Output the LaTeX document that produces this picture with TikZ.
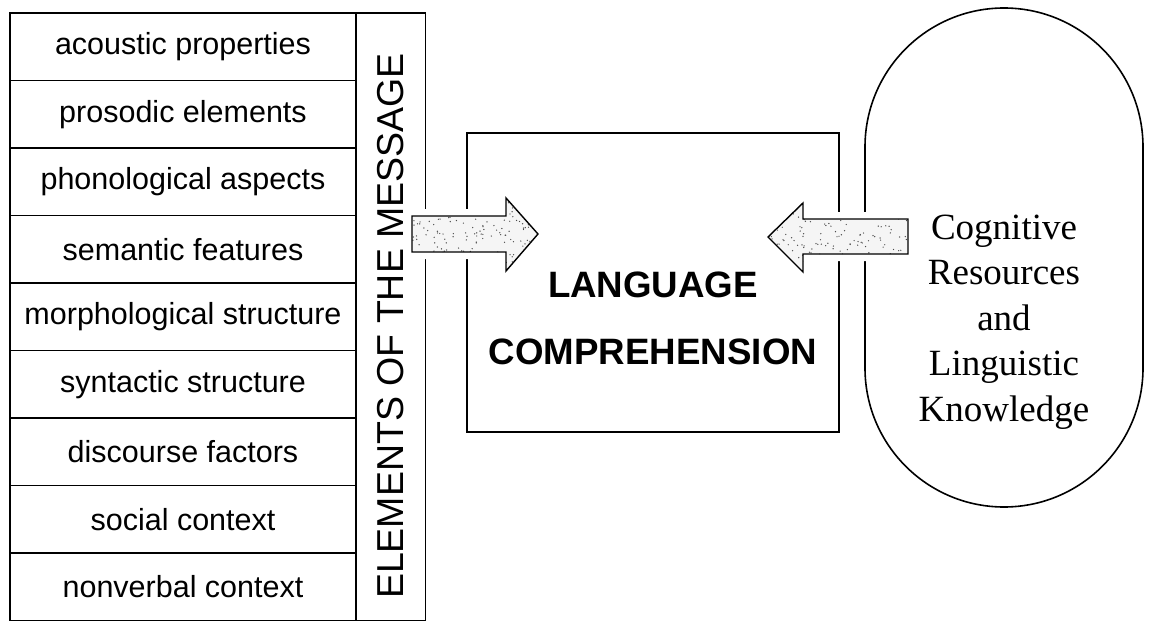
\documentclass[tikz,border=0pt]{standalone}
\usepackage{fontspec}
\setmainfont{Liberation Sans}
\newfontfamily\serifface{Liberation Serif}
\usetikzlibrary{calc}

\begin{document}
\begin{tikzpicture}[x=1pt,y=-1pt,
  line width=1.6pt,
  cell/.style={draw, minimum width=346pt, minimum height=67.5pt, inner sep=0pt,
    font=\fontsize{30.5}{36}\selectfont},
  band/.style={draw, minimum width=69.5pt, minimum height=607.5pt, inner sep=0pt},
  bandtext/.style={rotate=90, inner sep=0pt, font=\fontsize{37.5}{44}\selectfont},
  centrebox/.style={draw, minimum width=372pt, minimum height=299pt, inner sep=0pt},
  centretext/.style={align=center, inner sep=0pt,
    font=\fontsize{36.7}{67}\selectfont\bfseries},
  stadium/.style={draw, rounded corners=139pt, minimum width=278pt,
    minimum height=499pt, inner sep=0pt},
  stadiumtext/.style={align=center, inner sep=0pt,
    font=\serifface\fontsize{37}{45.5}\selectfont},
  blockarrow/.style={draw=black, line width=1.4pt, line join=miter, fill=gray!8,
    preaction={draw=white, line width=14pt},
    path picture={
      \path (path picture bounding box.south west) coordinate (ppa)
            (path picture bounding box.north east) coordinate (ppb);
      \foreach \k in {1,...,170}{
        \fill[black!70] let \p1=(ppa), \p2=(ppb) in
          ({\x1+rnd*(\x2-\x1)},{\y1+rnd*(\y2-\y1)}) circle (0.7pt);
      }
    }},
]
\useasboundingbox (0,0) rectangle (1149,623);

% left column: the nine elements of the message
\foreach \t [count=\i] in {acoustic properties, prosodic elements,
    phonological aspects, semantic features, morphological structure,
    syntactic structure, discourse factors, social context, nonverbal context}
  \node[cell] (row\i) at (183,{13+67.5*(\i-0.5)}) {\t};

% vertical title band
\node[band] (band) at (390.75,316.75) {};
\node[bandtext] (bandlabel) at (391,326) {ELEMENTS OF THE MESSAGE};

% central box
\node[centrebox] (lc) at (653,282.5) {};
\node[centretext] (lclabel) at (653,318) {LANGUAGE\\COMPREHENSION};

% knowledge stadium on the right
\node[stadium] (kr) at (1004,257.5) {};
\node[stadiumtext] (krlabel) at (1004,322)
  {Cognitive\\Resources\\and\\Linguistic\\Knowledge};

% block arrows feeding the central box
\pgfmathsetseed{11}
\coordinate (la-tail) at (412,234);
\coordinate (la-tip) at (538,234);
\draw[blockarrow] (la-tail) ++(0,-18) -- ++(94,0) -- ++(0,-18) -- (la-tip)
  -- ++(-32,37) -- ++(0,-19) -- ++(-94,0) -- cycle;

\coordinate (ra-tail) at (908,237);
\coordinate (ra-tip) at (768,237);
\draw[blockarrow] (ra-tail) ++(0,-18) -- ++(-105,0) -- ++(0,-16) -- (ra-tip)
  -- ++(35,35) -- ++(0,-18) -- ++(105,0) -- cycle;
\end{tikzpicture}
\end{document}
